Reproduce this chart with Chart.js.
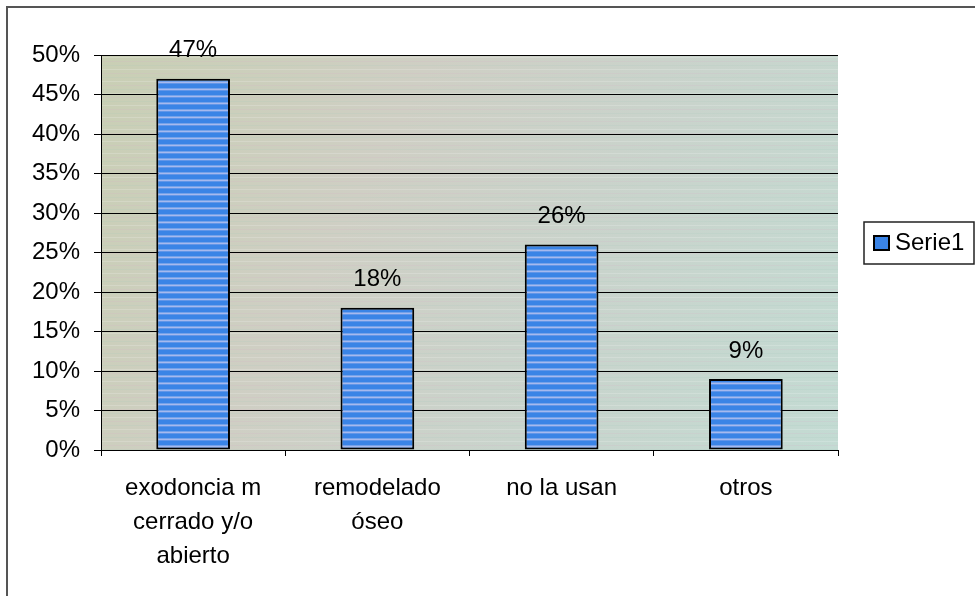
<!DOCTYPE html>
<html>
<head>
<meta charset="utf-8">
<script src="https://cdn.jsdelivr.net/npm/chart.js@4"></script>
<style>
  html, body { margin: 0; padding: 0; background: #ffffff; }
  #wrap { width: 975px; height: 596px; }
</style>
</head>
<body>
<div id="wrap"><canvas id="chart" width="975" height="596"></canvas></div>
<script>
// categories and values
const categories = [
  ["exodoncia m", "cerrado y/o", "abierto"],
  ["remodelado", "óseo"],
  ["no la usan"],
  ["otros"]
];
const serie1 = [0.47, 0.18, 0.26, 0.09];
const seriesName = "Serie1";
const yTicks = { min: 0, max: 0.5, step: 0.05 };

const FONT = "'Liberation Sans', Arial, sans-serif";

// striped blue fill for the bars
function barPattern(ctx) {
  const c = document.createElement("canvas");
  c.width = 4; c.height = 7;
  const p = c.getContext("2d");
  p.fillStyle = "#3a84e6"; p.fillRect(0, 0, 4, 7);
  p.fillStyle = "#74a2ea"; p.fillRect(0, 4, 4, 1);
  p.fillStyle = "#a6b9ee"; p.fillRect(0, 5, 4, 1);
  p.fillStyle = "#6296e8"; p.fillRect(0, 6, 4, 1);
  return ctx.createPattern(c, "repeat");
}

// plot area background + outer frame
const backdrop = {
  id: "backdrop",
  beforeDraw(chart) {
    const { ctx, chartArea: a } = chart;
    ctx.save();
    // outer chart frame (only top and left edges fall inside the picture)
    ctx.strokeStyle = "#555555";
    ctx.lineWidth = 2;
    ctx.strokeRect(7, 7, 990, 600);
    const g = ctx.createLinearGradient(a.left, a.top, a.right, a.bottom);
    g.addColorStop(0, "#c9cfb4");
    g.addColorStop(0.35, "#cfcfc4");
    g.addColorStop(0.6, "#cad3cb");
    g.addColorStop(1, "#c3dbd3");
    ctx.fillStyle = g;
    ctx.fillRect(a.left, a.top, a.right - a.left, a.bottom - a.top);
    // faint horizontal streaks like the scanned fill
    const tints = ["rgba(255,255,255,0.18)", "rgba(214,180,200,0.18)", "rgba(160,200,190,0.15)"];
    let k = 0;
    for (let y = a.top + 2; y < a.bottom; y += 4) {
      ctx.fillStyle = tints[k % 3];
      ctx.fillRect(a.left, y, a.right - a.left, 1);
      k++;
    }
    ctx.restore();
  }
};

// value labels over the bars and the boxed legend
const extras = {
  id: "extras",
  afterDatasetsDraw(chart) {
    const { ctx } = chart;
    const meta = chart.getDatasetMeta(0);
    ctx.save();
    ctx.font = "24px " + FONT;
    ctx.fillStyle = "#000000";
    ctx.textAlign = "center";
    ctx.textBaseline = "middle";
    meta.data.forEach((bar, i) => {
      ctx.fillText(Math.round(serie1[i] * 100) + "%", bar.x, bar.y - 28);
    });
    ctx.restore();
  },
  afterDraw(chart) {
    const { ctx } = chart;
    ctx.save();
    ctx.strokeStyle = "#222222";
    ctx.lineWidth = 1.5;
    ctx.fillStyle = "#ffffff";
    ctx.fillRect(864, 222, 110, 42);
    ctx.strokeRect(864, 222, 110, 42);
    ctx.fillStyle = "#3a84e6";
    ctx.fillRect(874, 236, 15, 14);
    ctx.strokeStyle = "#000000";
    ctx.lineWidth = 2;
    ctx.strokeRect(874, 236, 15, 14);
    ctx.fillStyle = "#000000";
    ctx.font = "24px " + FONT;
    ctx.textAlign = "left";
    ctx.textBaseline = "middle";
    ctx.fillText(seriesName, 895, 243);
    ctx.restore();
  }
};

const canvas = document.getElementById("chart");
const c2d = canvas.getContext("2d");

new Chart(canvas, {
  type: "bar",
  plugins: [backdrop, extras],
  data: {
    labels: categories,
    datasets: [{
      label: seriesName,
      data: serie1,
      backgroundColor: barPattern(c2d),
      borderColor: "#000000",
      borderWidth: 2,
      borderSkipped: false,
      categoryPercentage: 1,
      barPercentage: 0.4
    }]
  },
  options: {
    responsive: false,
    animation: false,
    layout: { padding: { top: 55, right: 137, bottom: 0, left: 0 } },
    plugins: {
      legend: { display: false },
      tooltip: { enabled: false }
    },
    scales: {
      x: {
        grid: { display: true, drawOnChartArea: false, offset: true, color: "#000000", tickLength: 6, lineWidth: 1 },
        border: { color: "#000000", width: 1 },
        ticks: {
          color: "#000000",
          font: { family: FONT, size: 24, lineHeight: 1.42 },
          padding: 15,
          maxRotation: 0,
          autoSkip: false
        },
        afterFit(scale) { scale.height = 146; }
      },
      y: {
        min: yTicks.min,
        max: yTicks.max,
        grid: { color: "#000000", lineWidth: 1, tickLength: 7 },
        border: { color: "#000000", width: 1 },
        ticks: {
          stepSize: yTicks.step,
          color: "#000000",
          font: { family: FONT, size: 24 },
          padding: 14,
          callback: v => Math.round(v * 100) + "%"
        },
        afterFit(scale) { scale.width = 101; }
      }
    }
  }
});
</script>
</body>
</html>
